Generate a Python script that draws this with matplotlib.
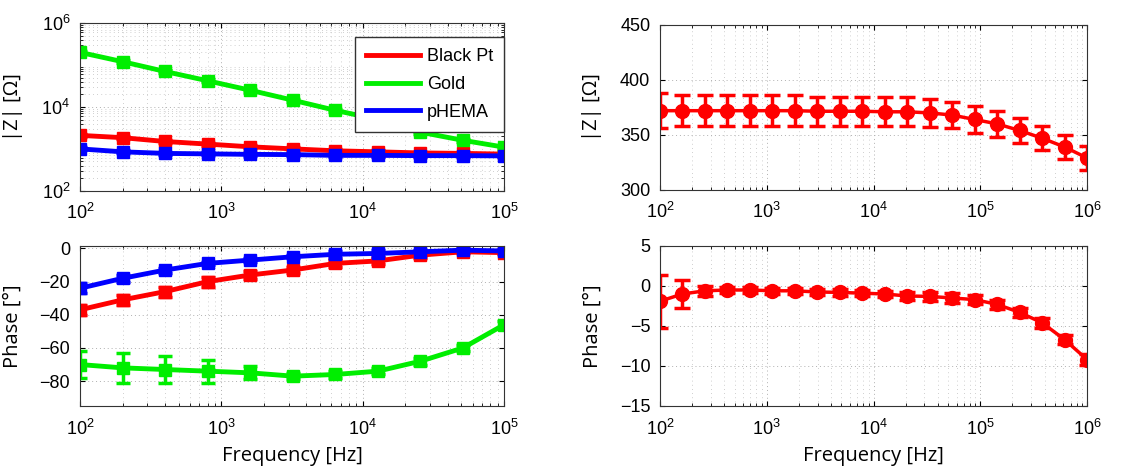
import matplotlib.pyplot as plt
from matplotlib.lines import Line2D
import numpy as np

# left panels: three electrode coatings
freq_l = [100, 200, 400, 800, 1600, 3200, 6400, 12800, 25600, 51200, 100000]

z_blackpt = [2100, 1850, 1500, 1300, 1120, 1000, 900, 850, 800, 780, 750]
z_gold = [200000, 120000, 70000, 42000, 25000, 14500, 8300, 5000, 2500, 1600, 1100]
z_phema = [1000, 850, 780, 760, 740, 730, 700, 700, 690, 690, 680]

ph_blackpt = [-37, -31, -26, -20, -16, -13, -9, -7.5, -4, -2, -2.5]
ph_blackpt_err = [3, 3, 3, 3, 2.5, 2, 2, 2, 1.5, 1, 1]
ph_gold = [-70, -72, -73, -74, -75, -77, -76, -74, -68, -60, -46]
ph_gold_err = [8, 9, 8, 7, 4, 2, 2, 2, 2, 2, 2]
ph_phema = [-24, -18, -13, -9, -7, -5, -3.5, -3, -2, -1, -1.5]
ph_phema_err = [3, 2, 1.5, 1, 1, 1, 2, 2, 1, 1, 1]

# right panels: one electrode over a wider band
freq_r = [100, 162, 264, 428, 695, 1129, 1833, 2976, 4833, 7848,
          12743, 20691, 33598, 54556, 88587, 143845, 233572, 379269, 615848, 1000000]
z_r = [372, 372, 372, 372, 372, 372, 372, 371.5, 371.5, 371.5,
       371, 371, 370, 368, 364, 360, 354, 347, 339, 329]
z_r_err = [16, 14, 14, 14, 14, 14, 14, 13, 13, 13,
           13, 13, 13, 12, 12, 12, 11, 11, 11, 11]
ph_r = [-1.9, -1.0, -0.6, -0.5, -0.5, -0.6, -0.6, -0.75, -0.8, -0.9,
        -1.0, -1.25, -1.3, -1.5, -1.7, -2.3, -3.3, -4.6, -6.7, -9.2]
ph_r_err = [3.3, 1.7, 0.6, 0.4, 0.4, 0.4, 0.4, 0.4, 0.4, 0.4,
            0.4, 0.5, 0.6, 0.6, 0.6, 0.6, 0.6, 0.6, 0.6, 0.7]

RED = '#ff0000'
GREEN = '#00ee00'
BLUE = '#0000ff'

plt.rcParams['font.family'] = ['Liberation Sans', 'DejaVu Sans']
plt.rcParams['mathtext.fontset'] = 'custom'
plt.rcParams['mathtext.rm'] = 'Liberation Sans'
plt.rcParams['mathtext.it'] = 'Liberation Sans'

fig = plt.figure(figsize=(11.39, 4.70), dpi=100)
ax1 = fig.add_axes([0.0702, 0.594, 0.3723, 0.357])
ax2 = fig.add_axes([0.0702, 0.1362, 0.3723, 0.3404])
ax3 = fig.add_axes([0.5795, 0.596, 0.3749, 0.351])
ax4 = fig.add_axes([0.5795, 0.1362, 0.3749, 0.3404])

lab_font = dict(family=['Open Sans', 'DejaVu Sans'], fontsize=14.5)

def style(ax):
    ax.set_xscale('log')
    ax.grid(True, which='major', color='#b0b0b0', linestyle=(0, (1, 3)), linewidth=0.7)
    ax.grid(True, which='minor', color='#c0c0c0', linestyle=(0, (1, 4)), linewidth=0.6)
    ax.tick_params(which='both', direction='in', labelsize=13, top=True, right=True)
    ax.tick_params(axis='x', which='major', pad=9)
    ax.tick_params(axis='y', which='major', pad=7)
    for s in ax.spines.values():
        s.set_color('#333333')

kw = dict(lw=3.5, marker='s', ms=9, capsize=5, elinewidth=2.5, capthick=2.5)

# |Z| left
ax1.errorbar(freq_l, z_blackpt, yerr=np.array(z_blackpt) * 0.08, color=RED, **kw)
ax1.errorbar(freq_l, z_gold, yerr=np.array(z_gold) * 0.08, color=GREEN, **kw)
ax1.errorbar(freq_l, z_phema, yerr=np.array(z_phema) * 0.08, color=BLUE, **kw)
ax1.set_yscale('log')
ax1.set_xlim(100, 1e5)
ax1.set_ylim(1e2, 1e6)
ax1.set_yticks([1e2, 1e4, 1e6])
style(ax1)
ax1.set_ylabel('|Z| [Ω]', **lab_font)
handles = [Line2D([], [], color=c, lw=3.5) for c in (RED, GREEN, BLUE)]
leg = ax1.legend(handles, ['Black Pt', 'Gold', 'pHEMA'], loc='upper right',
                 bbox_to_anchor=(1.0, 0.915), fontsize=13,
                 frameon=True, fancybox=False, framealpha=1, borderpad=0.6,
                 handlelength=3.0, borderaxespad=0.0, handletextpad=0.4, labelspacing=0.6)
leg.get_frame().set_edgecolor('#333333')
leg.get_frame().set_linewidth(1.0)

# phase left
ax2.errorbar(freq_l, ph_blackpt, yerr=ph_blackpt_err, color=RED, **kw)
ax2.errorbar(freq_l, ph_gold, yerr=ph_gold_err, color=GREEN, **kw)
ax2.errorbar(freq_l, ph_phema, yerr=ph_phema_err, color=BLUE, **kw)
ax2.set_xlim(100, 1e5)
ax2.set_ylim(-95, 1.5)
ax2.set_yticks([-80, -60, -40, -20, 0])
style(ax2)
ax2.set_ylabel('Phase [°]', **lab_font)
ax2.set_xlabel('Frequency [Hz]', **lab_font)

# right panels
kw_r = dict(lw=2.5, marker='o', ms=10, capsize=5.5, elinewidth=2.5, capthick=2.5)
ax3.errorbar(freq_r, z_r, yerr=z_r_err, color=RED, **kw_r)
ax3.set_xlim(100, 1e6)
ax3.set_ylim(300, 450)
ax3.set_yticks([300, 350, 400, 450])
style(ax3)
ax3.set_ylabel('|Z| [Ω]', **lab_font)

ax4.errorbar(freq_r, ph_r, yerr=ph_r_err, color=RED, **kw_r)
ax4.set_xlim(100, 1e6)
ax4.set_ylim(-15, 5)
ax4.set_yticks([-15, -10, -5, 0, 5])
style(ax4)
ax4.set_ylabel('Phase [°]', **lab_font)
ax4.set_xlabel('Frequency [Hz]', **lab_font)

for ax in (ax1, ax2, ax3, ax4):
    ax.yaxis.set_label_coords(-0.135, 0.5)
for ax in (ax2, ax4):
    ax.xaxis.set_label_coords(0.5, -0.25)

fig.savefig('out.png', dpi=100)
